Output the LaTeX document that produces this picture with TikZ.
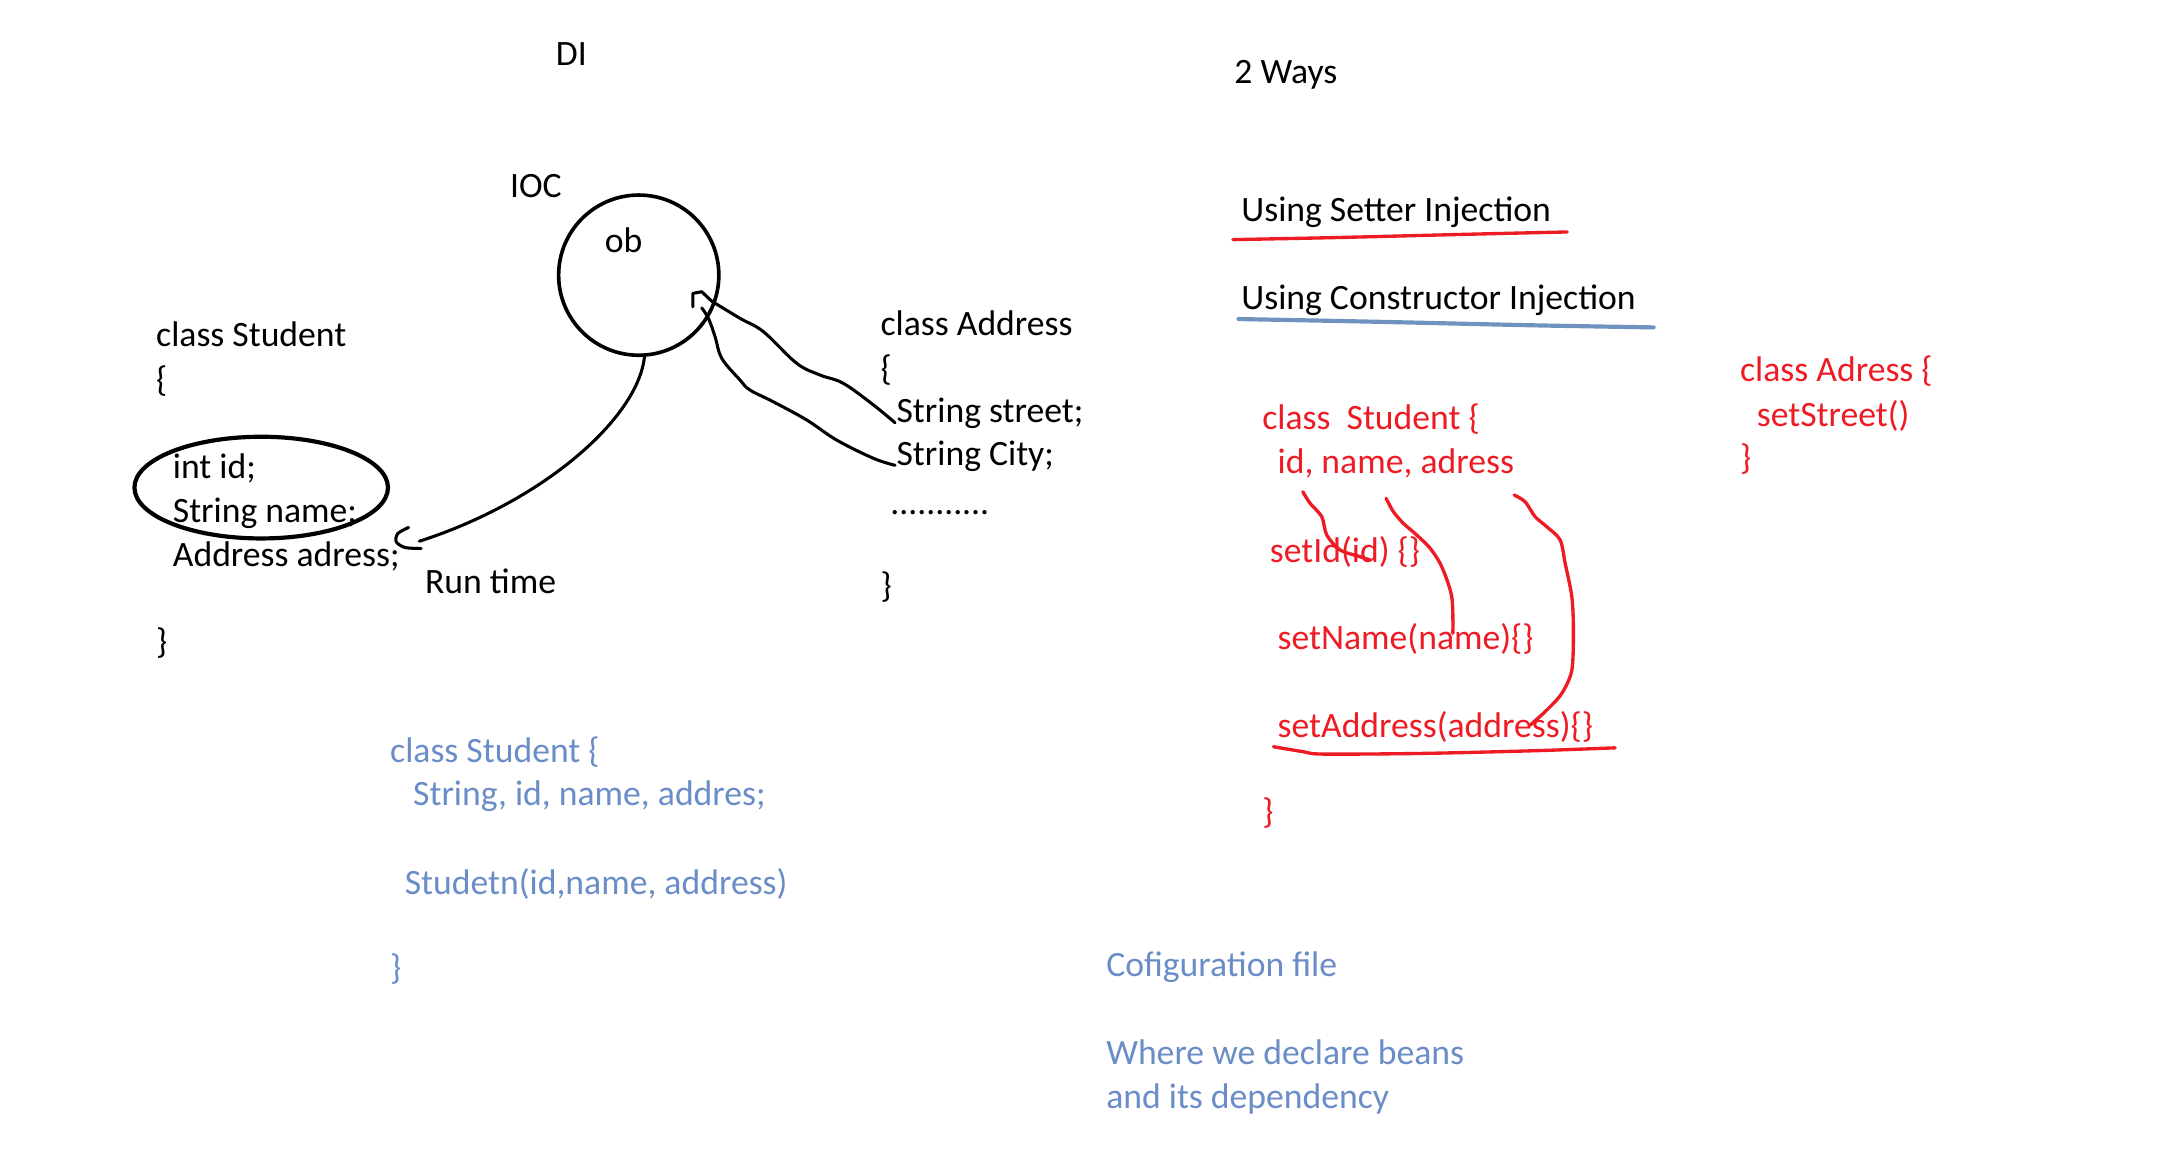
\documentclass[tikz,border=0pt]{standalone}
\usepackage{fontspec}
\setmainfont{Carlito}
\usetikzlibrary{
    shapes.geometric, % Ellipse round the two fields.
}
\definecolor{inkred}{RGB}{237,28,36}
\definecolor{inkblue}{RGB}{106,141,199}
\definecolor{penblue}{RGB}{112,146,190}

\begin{document}
\begin{tikzpicture}[%
        x = 1pt,
        y = -1pt,
        line width = 2.2pt,
        line cap = round,
        line join = round,
        every node/.style = {%
            inner sep = 0pt,
            anchor = base west,
            yshift = -2pt,
            font = \fontsize{25.6}{31}\selectfont
        },
        redtext/.style = {text = inkred},
        bluetext/.style = {text = inkblue},
        redpen/.style = {draw = inkred, line width = 2.4pt},
        bluepen/.style = {draw = penblue, line width = 3pt}
    ]

        % Size of the page.
        \useasboundingbox (0, 0) rectangle (1567, 831);

        % Titles.
        \node (di) at (398, 45) {DI};
        \node (ways) at (885, 58) {2 Ways};
        \node (ioc) at (365, 140) {IOC};

        % The container with its object.
        \node[circle, draw, anchor = center, minimum size = 115pt,
            line width = 2.6pt] (iocring) at (458.5, 195.5) {};
        \node (ob) at (433, 179) {ob};

        % Class Student in black.
        \node (stuhead) at (111, 247) {class Student};
        \node (stuopen) at (111, 279) {\{};
        \node (stuid) at (123, 341.5) {int id;};
        \node (stuname) at (123, 373) {String name;};
        \node (stuaddr) at (123, 404.5) {Address adress;};
        \node (stuclose) at (111, 467) {\}};
        \node[ellipse, draw, anchor = center, minimum width = 182pt,
            minimum height = 73pt, line width = 3pt] (fieldring)
            at (187.5, 348) {};
        \node (runtime) at (304, 424) {Run time};

        % Class Address in black.
        \node (addrhead) at (631, 239) {class Address};
        \node (addropen) at (631, 271) {\{};
        \node (street) at (642.5, 301.5) {String street;};
        \node (city) at (642.5, 332) {String City;};
        \node (dots) at (638, 367) {...........};
        \node (addrclose) at (631, 427) {\}};

        % Ends of the hand drawn connectors.
        \coordinate (rtend) at (301, 386.5);
        \coordinate (obhook) at (510.9, 214.2);
        \coordinate (obtail) at (503.7, 219);

        % Injection from the container into Student.
        \draw (iocring.-86) .. controls (458, 300) and (390, 360) .. (rtend);
        \draw plot[smooth] coordinates {(293.3, 378.6) (285.6, 382.9)
            (284.4, 388.9) (290.7, 393) (302.3, 393.7)};

        % Address fields into the container.
        \draw plot[smooth, tension = 0.6] coordinates {(street.base west)
            (627, 290.7) (605.4, 275.2) (588.7, 269.2) (571.9, 260.8)
            (548, 238.1) (531.2, 228.5) (obhook)};
        \draw plot[smooth, tension = 0.6] coordinates {(city.base west)
            (627, 329) (600.6, 315.9) (579.1, 301.5) (555.1, 288.4)
            (538.4, 280) (531.2, 272.8) (518.1, 257.2) (513.3, 241.7)
            (508.5, 228.5) (obtail)};
        \draw (497.3, 220.2) -- (497.3, 210.6) -- (503.7, 209.4) -- (obhook);

        % The two ways.
        \node (setter) at (890, 157) {Using Setter Injection};
        \node (ctor) at (890, 220) {Using Constructor Injection};
        \draw[redpen] plot[smooth] coordinates {(885, 172) (960, 170.5)
            (1060, 168) (1125, 166.5)};
        \draw[bluepen] plot[smooth] coordinates {(889, 229) (990, 231)
            (1100, 233.5) (1187, 235)};

        % Setter version in red.
        \node[redtext] (rstuhead) at (905, 306) {class~~Student \{};
        \node[redtext] (rfields) at (916, 338) {id, name, adress};
        \node[redtext] (setid) at (910.5, 401.5) {setId(id) \{\}};
        \node[redtext] (setname) at (916, 464) {setName(name)\{\}};
        \node[redtext] (setaddr) at (916, 527.5) {setAddress(address)\{\}};
        \node[redtext] (rstuclose) at (905, 589) {\}};
        \node[redtext] (radrhead) at (1248, 272) {class Adress \{};
        \node[redtext] (setstreet) at (1260, 304) {setStreet()};
        \node[redtext] (radrclose) at (1248, 335) {\}};

        % Fields to their setters.
        \draw[redpen] plot[smooth] coordinates {(935.2, 353) (940.4, 361.3)
            (948.8, 370.9) (952.4, 384.1) (962, 394.8) (976.3, 399.6)
            (983.5, 402)};
        \draw[redpen] plot[smooth] coordinates {(995, 357.7) (1000.2, 367.3)
            (1007.4, 375.7) (1017, 384.1) (1026.6, 393.6) (1034.9, 406.8)
            (1042.1, 428.4) (1042.9, 454.6)};
        \draw[redpen] plot[smooth] coordinates {(1086.9, 355.3) (1094.8, 360.2)
            (1101.9, 370.9) (1110.3, 378.1) (1119.9, 387.6) (1123.5, 404.4)
            (1128.3, 428.4) (1129.4, 452.3) (1128.3, 481) (1121.1, 497.7)
            (1110.3, 509.7) (1098.4, 520.5)};
        \draw[redpen] plot[smooth] coordinates {(914.1, 536) (935.6, 539.6)
            (950, 541.3) (1021.8, 540.8) (1100.7, 538.9) (1159.4, 536.8)};

        % Constructor version in blue.
        \node[bluetext] (bstuhead) at (279, 545.5) {class Student \{};
        \node[bluetext] (bfields) at (295.5, 576.5) {String, id, name, addres;};
        \node[bluetext] (bctor) at (289.5, 640) {Studetn(id,name, address)};
        \node[bluetext] (bstuclose) at (279, 701) {\}};
        \node[bluetext] (config) at (793, 699) {Cofiguration file};
        \node[bluetext] (beans) at (793, 762) {Where we declare beans};
        \node[bluetext] (beansdep) at (793, 794) {and its dependency};
    \end{tikzpicture}
\end{document}
